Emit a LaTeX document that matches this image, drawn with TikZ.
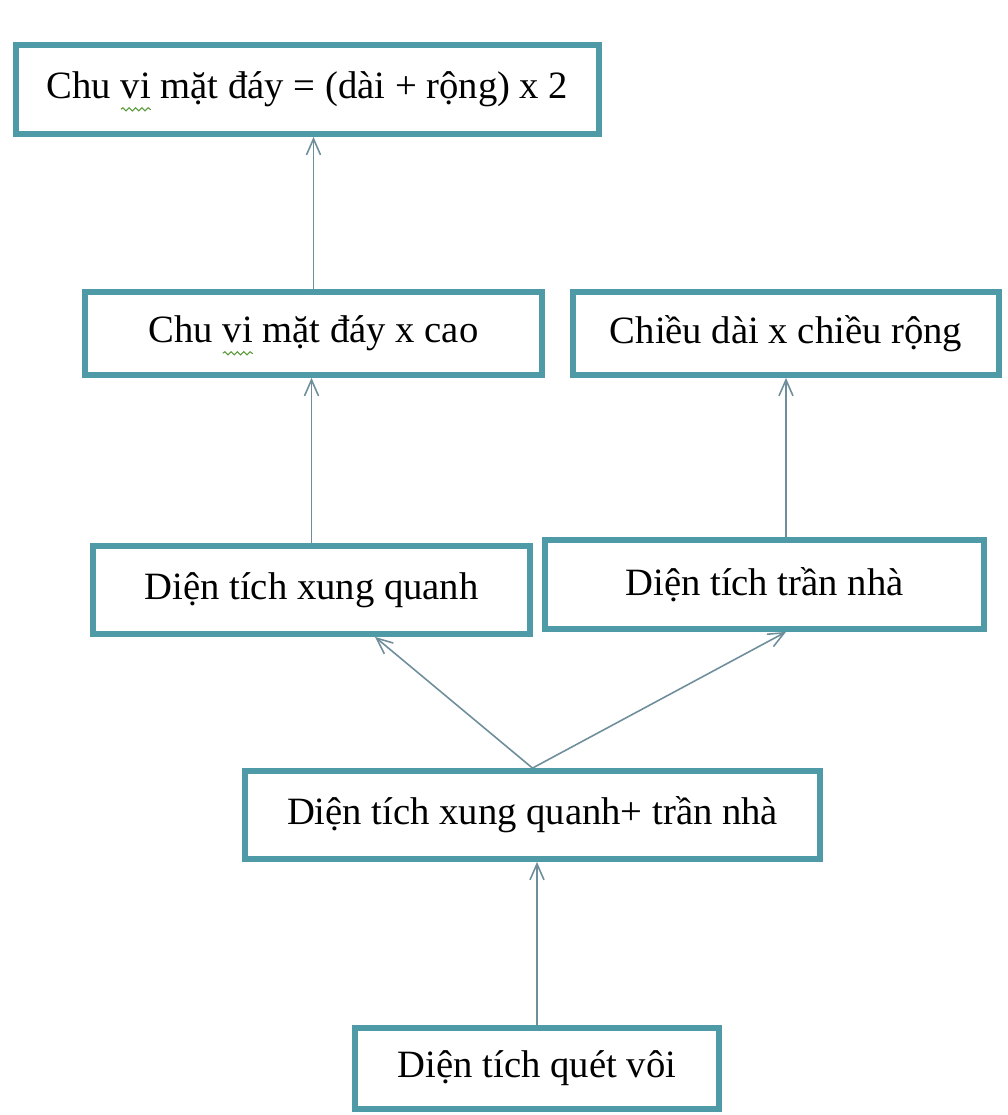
\documentclass[tikz,border=0pt]{standalone}
\usepackage{fontspec}
\setmainfont{Liberation Serif}
\usepackage{xcolor}
\usepackage{tikz}
\usetikzlibrary{arrows.meta, positioning, calc, decorations.pathmorphing}

\definecolor{boxteal}{HTML}{4E9AA6}
\definecolor{arrgray}{HTML}{6F8E9C}
\definecolor{squiggle}{HTML}{5A9A3A}

% spell-check wave under a word
\newlength{\wavelen}
\newcommand{\wavyword}[1]{\leavevmode\settowidth{\wavelen}{#1}\rlap{\tikz[baseline=0pt]{\useasboundingbox (0,0);
    \draw[squiggle, line width=0.6pt, decorate, decoration={snake, amplitude=0.9pt, segment length=3.6pt}] (0,-6pt) -- (\wavelen,-6pt);}}#1}

\begin{document}
\begin{tikzpicture}[
    calcbox/.style={draw=boxteal, line width=3.3pt, fill=white, minimum height=#1, font=\fontsize{22}{26}\selectfont, inner sep=0pt},
    arr/.style={-{Straight Barb[length=3.2mm, width=2.8mm]}, line width=0.9pt, arrgray}
]
\useasboundingbox (0,0) rectangle (20.16,22.3);

% top
\node[calcbox=1.78cm, minimum width=11.66cm] (perim) at (6.15, 20.51) {Chu \wavyword{vi} mặt đáy = (dài + rộng) x 2};

% second row
\node[calcbox=1.66cm, minimum width=9.14cm] (wall) at (6.27, 15.63) {Chu \wavyword{vi} mặt đáy x cao};
\node[calcbox=1.66cm, minimum width=8.52cm] (ceilcalc) at (15.72, 15.63) {Chiều dài x chiều rộng};

% third row
\node[calcbox=1.76cm, minimum width=8.74cm] (sidearea) at (6.23, 10.50) {Diện tích xung quanh};
\node[calcbox=1.78cm, minimum width=8.78cm] (ceilarea) at (15.29, 10.61) {Diện tích trần nhà};

% sum
\node[calcbox=1.76cm, minimum width=11.5cm] (total) at (10.65, 6.00) {Diện tích xung quanh+ trần nhà};

% bottom
\node[calcbox=1.62cm, minimum width=7.28cm] (paint) at (10.74, 0.93) {Diện tích quét vôi};

% arrows
\draw[arr] (wall.north) -- (wall.north |- perim.south);
\draw[arr] (sidearea.north) -- (sidearea.north |- wall.south);
\draw[arr] (ceilcalc.south |- ceilarea.north) -- (ceilcalc.south);
\draw[arr] (total.north) -- ([xshift=1.27cm]sidearea.south);
\draw[arr] (total.north) -- (ceilcalc.south |- ceilarea.south);
\draw[arr] (paint.north) -- (paint.north |- total.south);

\end{tikzpicture}
\end{document}
